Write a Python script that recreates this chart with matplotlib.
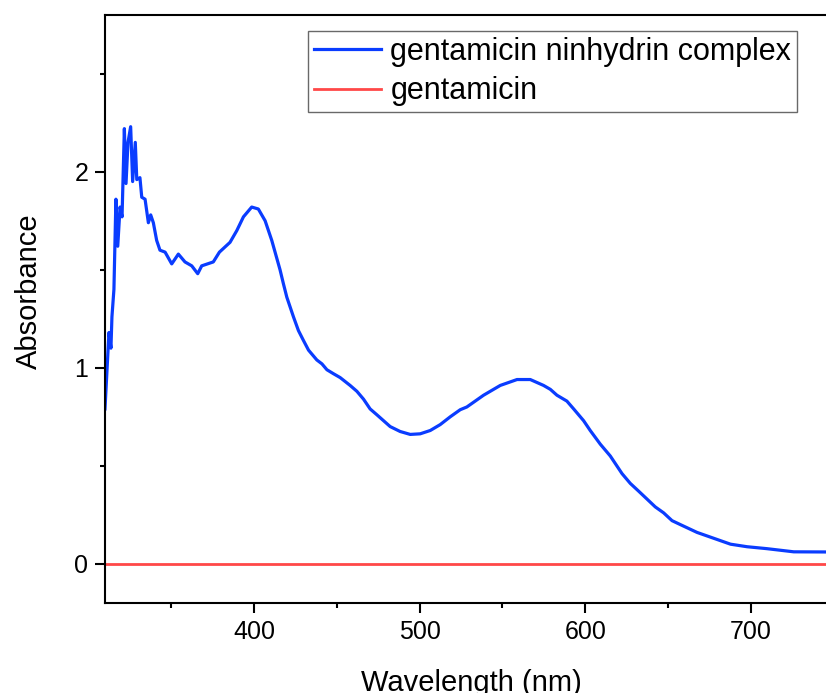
import matplotlib
matplotlib.use("Agg")
import matplotlib.pyplot as plt
from matplotlib.ticker import MultipleLocator

plt.rcParams['font.family'] = ['Liberation Sans', 'DejaVu Sans']

# UV-Vis spectrum of the gentamicin-ninhydrin complex (absorbance vs wavelength)
wavelength_nm = [
    310.0, 312.4, 313.6, 314.2, 315.4, 316.6, 317.7, 319.1, 320.3, 321.7,
    322.7, 323.9, 325.5, 326.7, 328.3, 329.2, 331.1, 332.2, 334.2, 336.2,
    337.6, 339.2, 341.2, 343.2, 346.3, 350.3, 354.3, 358.3, 362.4, 366.0,
    368.4, 375.4, 379.1, 385.5, 389.6, 393.6, 398.6, 402.6, 406.7, 410.7,
    415.7, 417.7, 419.8, 421.8, 423.8, 426.8, 429.8, 432.9, 437.9, 441.0,
    444.0, 447.9, 452.0, 458.0, 462.1, 466.1, 470.1, 474.2, 478.2, 482.2,
    488.2, 494.3, 500.3, 506.4, 512.4, 518.5, 524.5, 528.5, 538.6, 548.7,
    558.8, 566.8, 574.8, 578.9, 582.9, 588.9, 593.0, 599.0, 603.0, 609.1,
    615.1, 622.2, 627.2, 632.3, 637.3, 642.3, 647.3, 652.4, 657.4, 667.5,
    677.6, 687.7, 697.7, 709.8, 725.9, 752.0,
]
absorbance_complex = [
    0.79, 1.18, 1.10, 1.26, 1.40, 1.86, 1.62, 1.82, 1.77, 2.22,
    1.94, 2.15, 2.23, 1.95, 2.15, 1.96, 1.97, 1.87, 1.86, 1.74,
    1.78, 1.74, 1.65, 1.60, 1.59, 1.53, 1.58, 1.54, 1.52, 1.48,
    1.52, 1.54, 1.59, 1.64, 1.70, 1.77, 1.82, 1.81, 1.75, 1.65,
    1.50, 1.43, 1.36, 1.31, 1.26, 1.19, 1.14, 1.09, 1.04, 1.02,
    0.99, 0.97, 0.95, 0.91, 0.88, 0.84, 0.79, 0.76, 0.73, 0.70,
    0.675, 0.66, 0.663, 0.68, 0.71, 0.75, 0.786, 0.80, 0.86, 0.91,
    0.94, 0.94, 0.91, 0.89, 0.86, 0.83, 0.79, 0.73, 0.68, 0.61,
    0.55, 0.46, 0.41, 0.37, 0.33, 0.29, 0.26, 0.22, 0.20, 0.16,
    0.13, 0.10, 0.087, 0.077, 0.061, 0.060,
]
wavelength_ref = [310.0, 752.0]
absorbance_gentamicin = [0.0, 0.0]

x_ticks = [400, 500, 600, 700]
y_ticks = [0, 1, 2]

fig = plt.figure(figsize=(8.26, 6.93), dpi=100)
ax = fig.add_axes([0.1271, 0.1299, 0.8862, 0.8485])

ax.plot(wavelength_nm, absorbance_complex, color='#0a3cff', lw=2.3,
        label='gentamicin ninhydrin complex')
ax.plot(wavelength_ref, absorbance_gentamicin, color='#ff4848', lw=2.0,
        label='gentamicin')

ax.set_xlim(310, 752)
ax.set_ylim(-0.2, 2.8)
ax.set_xticks(x_ticks)
ax.set_yticks(y_ticks)
ax.xaxis.set_minor_locator(MultipleLocator(50))
ax.yaxis.set_minor_locator(MultipleLocator(0.5))

for s in ax.spines.values():
    s.set_linewidth(1.5)
ax.tick_params(which='major', direction='out', length=7, width=1.5,
               labelsize=18, pad=5)
ax.tick_params(which='minor', direction='out', length=3.5, width=1.5)

ax.set_xlabel('Wavelength (nm)', fontsize=21)
ax.set_ylabel('Absorbance', fontsize=21)
ax.xaxis.set_label_coords(0.5, -0.112)
ax.yaxis.set_label_coords(-0.085, 0.53)

leg = ax.legend(loc='upper left', bbox_to_anchor=(308 / 826, 1 - 31 / 693),
                bbox_transform=fig.transFigure, borderaxespad=0,
                fontsize=22, frameon=True, fancybox=False,
                handlelength=2.2, handletextpad=0.3, labelspacing=0.3,
                borderpad=0.2)
leg.get_frame().set_edgecolor('#444444')
leg.get_frame().set_linewidth(1.0)

fig.savefig('out.png', dpi=100)
